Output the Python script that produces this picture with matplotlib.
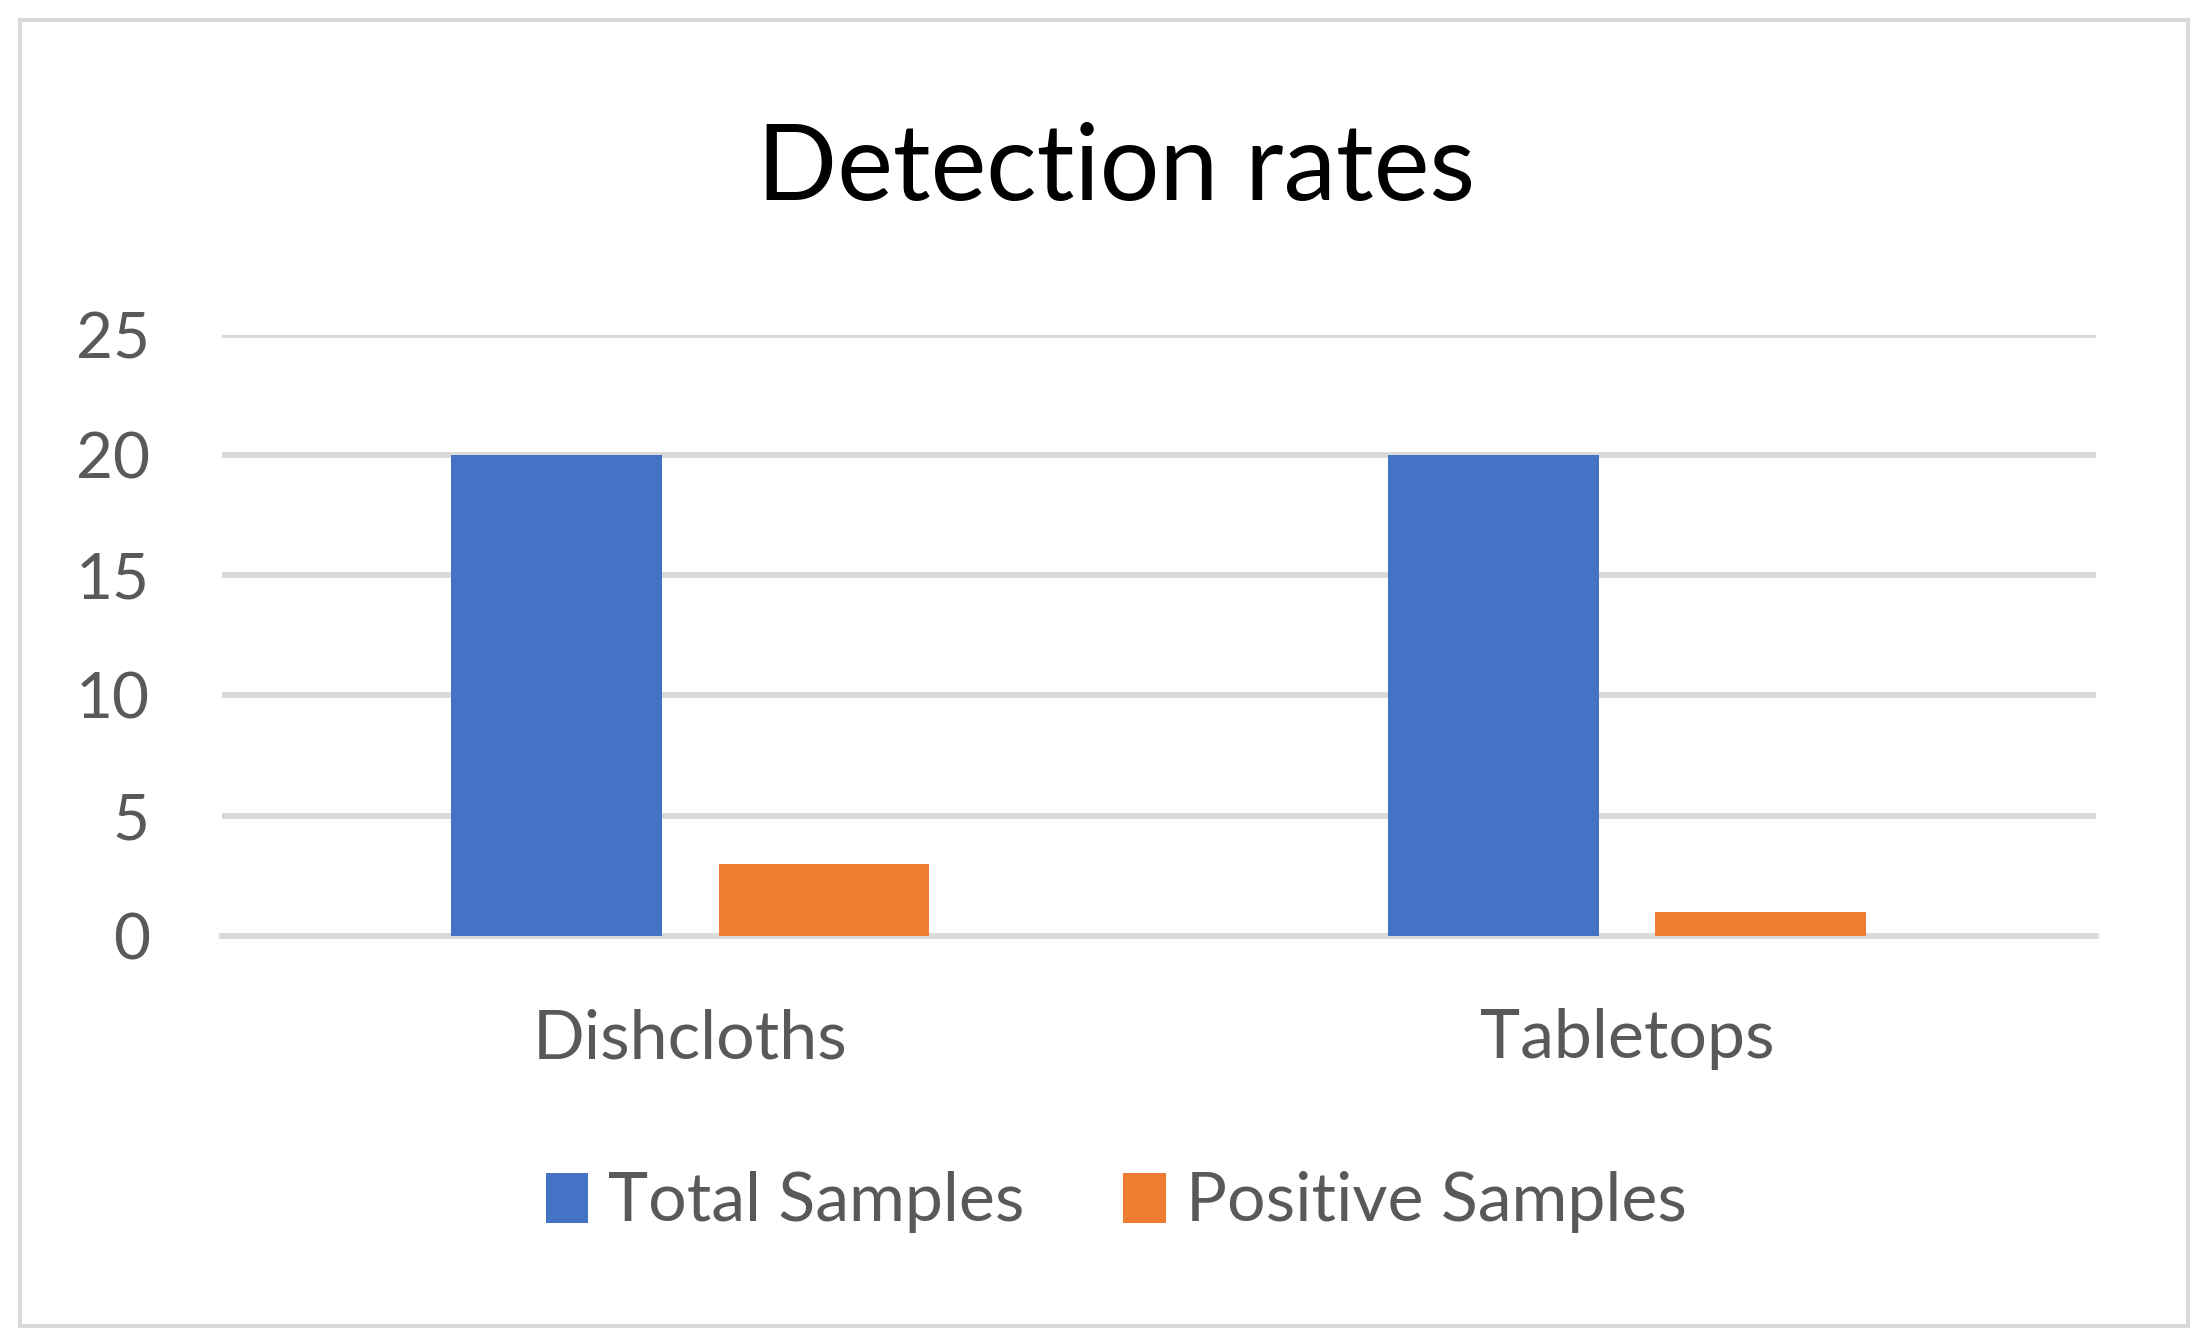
import matplotlib
matplotlib.use("Agg")
import matplotlib.pyplot as plt
from matplotlib.patches import Rectangle
import numpy as np

categories = ["Dishcloths", "Tabletops"]
series_names = ["Total Samples", "Positive Samples"]
total_samples = [20, 20]
positive_samples = [3, 1]
yticks = [0, 5, 10, 15, 20, 25]
colors = ["#4472C4", "#ED7D31"]
text_color = "#595959"
grid_color = "#D9D9D9"

plt.rcParams['font.family'] = ['Lato', 'DejaVu Sans']

fig = plt.figure(figsize=(22.06, 13.39), dpi=100)
ax = fig.add_axes([0.1006, 0.301, 0.8494, 0.449])

x = np.arange(len(categories))
w = 0.225
off = 0.1426
ax.bar(x - off, total_samples, w, color=colors[0], label=series_names[0], zorder=3)
ax.bar(x + off, positive_samples, w, color=colors[1], label=series_names[1], zorder=3)

ax.set_xlim(-0.5, len(categories) - 0.5)
ax.set_ylim(0, 25)
ax.set_yticks(yticks)
ax.set_yticklabels([str(t) for t in yticks])
ax.set_xticks(x)
ax.set_xticklabels(categories)
ax.grid(axis='y', color=grid_color, linewidth=4.2, zorder=0)
ax.set_axisbelow(True)
for s in ['top', 'right', 'left']:
    ax.spines[s].set_visible(False)
ax.spines['bottom'].set_color(grid_color)
ax.spines['bottom'].set_linewidth(4.2)
ax.spines['bottom'].set_zorder(0)
ax.tick_params(axis='both', length=0, colors=text_color)
ax.tick_params(axis='y', pad=52, labelsize=46)
ax.tick_params(axis='x', pad=52, labelsize=49)
for lbl in ax.get_xticklabels() + ax.get_yticklabels():
    lbl.set_color(text_color)

fig.text(0.506, 0.873, "Detection rates", ha='center', va='center', fontsize=76, color='black')

leg = fig.legend(loc='center', bbox_to_anchor=(0.506, 0.102), ncol=2, frameon=False,
                 fontsize=49, handlelength=0.62, handleheight=0.75, handletextpad=0.3,
                 columnspacing=1.45)
for t in leg.get_texts():
    t.set_color(text_color)

fig.patches.append(Rectangle((0.009, 0.0095), 0.983, 0.9755, transform=fig.transFigure,
                             fill=False, edgecolor=grid_color, linewidth=3, zorder=0))

fig.savefig("out.png", dpi=100, facecolor='white')
